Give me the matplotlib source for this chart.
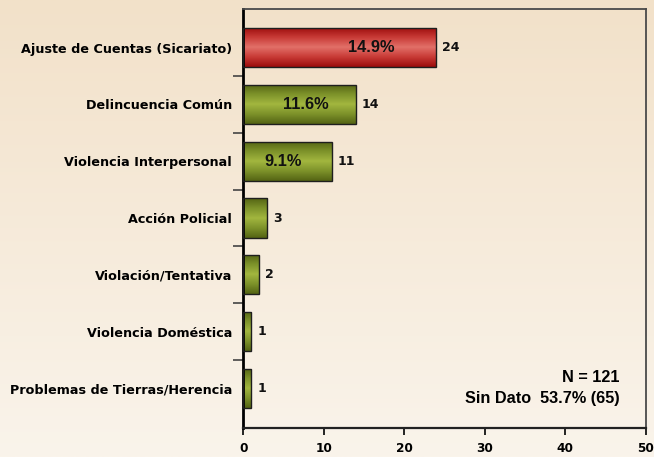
import numpy as np
import matplotlib
matplotlib.use('Agg')
from matplotlib import pyplot as plt
from matplotlib.colors import LinearSegmentedColormap

categories = ['Ajuste de Cuentas (Sicariato)', 'Delincuencia Común', 'Violencia Interpersonal',
              'Acción Policial', 'Violación/Tentativa', 'Violencia Doméstica',
              'Problemas de Tierras/Herencia']
counts = [24, 14, 11, 3, 2, 1, 1]
pct_labels = ['14.9%', '11.6%', '9.1%', None, None, None, None]
pct_x = [15.9, 7.8, 5.0, None, None, None, None]
x_ticks = [0, 10, 20, 30, 40, 50]
note_n = 'N = 121'
note_sd = 'Sin Dato  53.7% (65)'

W, H = 654, 457
fig = plt.figure(figsize=(W / 100, H / 100), dpi=100)

# background gradient
bg = fig.add_axes([0, 0, 1, 1], zorder=-10)
grad = np.linspace(0, 1, 256).reshape(-1, 1)
bg_cmap = LinearSegmentedColormap.from_list('bg', ['#f2e1c9', '#faf4eb'])
bg.imshow(grad, aspect='auto', cmap=bg_cmap, extent=[0, 1, 0, 1])
bg.axis('off')

left, right, top, bottom = 243.3, 645.5, 9, 427.7
ax = fig.add_axes([left / W, 1 - bottom / H, (right - left) / W, (bottom - top) / H])
ax.patch.set_alpha(0)

y = np.arange(len(categories))
bar_h = 0.69
bars = ax.barh(y, counts, height=bar_h, color='none', edgecolor='#1e1e1e', linewidth=1.0, zorder=3)

red_cmap = LinearSegmentedColormap.from_list('r', ['#9c0c0c', '#c83a36', '#e27068', '#c83a36', '#9c0c0c'])
green_cmap = LinearSegmentedColormap.from_list('g', ['#546414', '#7d922a', '#a2b63f', '#7d922a', '#546414'])
for i, b in enumerate(bars):
    cmap = red_cmap if i == 0 else green_cmap
    x0, y0 = b.get_x(), b.get_y()
    w, h = b.get_width(), b.get_height()
    im = ax.imshow(np.linspace(0, 1, 100).reshape(-1, 1), aspect='auto', cmap=cmap,
                   extent=[x0, x0 + w, y0, y0 + h], zorder=2)
    im.set_clip_path(b)

for i, c in enumerate(counts):
    ax.text(c + 0.75, y[i], str(c), va='center', ha='left', fontsize=9,
            fontweight='bold', family='DejaVu Sans', color='#111111')
    if pct_labels[i]:
        ax.text(pct_x[i], y[i], pct_labels[i], va='center', ha='center', fontsize=11.8,
                fontweight='bold', family='Liberation Sans', color='#111111', zorder=4)

ax.set_xlim(0, 50)
ax.set_ylim(6.69, -0.68)
ax.set_xticks(x_ticks)
ax.set_xticklabels([str(t) for t in x_ticks], fontsize=8.7, fontweight='bold', family='DejaVu Sans')
ax.set_yticks(y)
ax.set_yticklabels(categories, fontsize=9.2, fontweight='bold', family='DejaVu Sans')
ax.tick_params(axis='y', length=0, pad=8)
ax.set_yticks(np.arange(len(categories) - 1) + 0.5, minor=True)
ax.tick_params(axis='y', which='minor', length=7, width=1.2, color='#444444')
ax.tick_params(axis='x', length=5, width=1.2, pad=5)

ax.spines['left'].set_linewidth(2)
ax.spines['left'].set_color('black')
ax.spines['bottom'].set_linewidth(1.6)
ax.spines['bottom'].set_color('#222222')
for s in ['top', 'right']:
    ax.spines[s].set_linewidth(1.3)
    ax.spines[s].set_color('#4a4a4a')

ax.text(620 / W, 1 - 378 / H, note_n, transform=fig.transFigure, ha='right', va='center',
        fontsize=11.7, fontweight='bold', family='Liberation Sans')
ax.text(620 / W, 1 - 399 / H, note_sd, transform=fig.transFigure, ha='right', va='center',
        fontsize=11.7, fontweight='bold', family='Liberation Sans')

fig.savefig('out.png', dpi=100)
